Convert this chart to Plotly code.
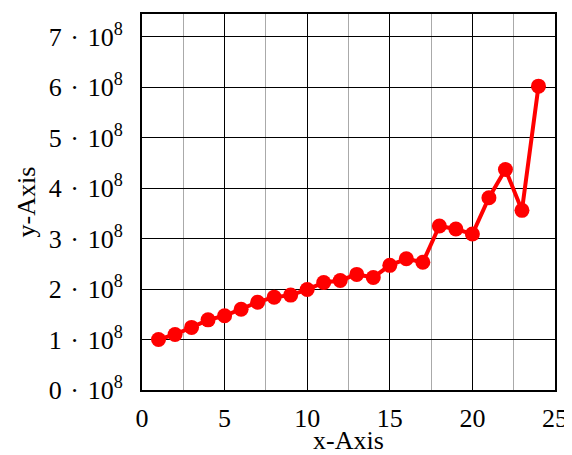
import plotly.graph_objects as go

x_vals = list(range(1, 25))
y_vals = [1.00e8, 1.10e8, 1.24e8, 1.39e8, 1.47e8, 1.60e8, 1.74e8, 1.84e8, 1.88e8, 1.99e8,
          2.13e8, 2.17e8, 2.29e8, 2.23e8, 2.47e8, 2.60e8, 2.53e8, 3.25e8, 3.19e8, 3.09e8,
          3.81e8, 4.37e8, 3.56e8, 6.02e8]
y_tick_vals = [0, 1e8, 2e8, 3e8, 4e8, 5e8, 6e8, 7e8]
y_tick_text = [f"{i}\u2004·\u200410<sup>8</sup>" for i in range(8)]
x_tick_vals = [0, 5, 10, 15, 20, 25]

FONT = "Liberation Serif"

fig = go.Figure()
fig.add_trace(go.Scatter(
    x=x_vals, y=y_vals, mode="lines+markers",
    line=dict(color="#ff0000", width=4),
    marker=dict(color="#ff0000", size=15),
    showlegend=False,
))

fig.update_layout(
    width=564, height=447,
    margin=dict(l=134, r=15, t=4, b=65),
    paper_bgcolor="white", plot_bgcolor="white",
    font=dict(family=FONT, size=26, color="black"),
    xaxis=dict(
        range=[0, 25], tickvals=x_tick_vals,
        showgrid=True, gridcolor="black", gridwidth=1,
        minor=dict(dtick=2.5, tick0=0, showgrid=True, gridcolor="#aaaaaa", gridwidth=1),
        showline=True, linecolor="black", linewidth=2, mirror=True,
        ticks="", zeroline=False,
        title=dict(text="x-Axis", standoff=0, font=dict(size=26)),
        ticklabelstandoff=4,
        tickfont=dict(size=26),
    ),
    yaxis=dict(
        range=[0, 7.45e8], tickvals=y_tick_vals, ticktext=y_tick_text,
        showgrid=True, gridcolor="black", gridwidth=1,
        showline=True, linecolor="black", linewidth=2, mirror=True,
        ticks="", zeroline=False,
        title=dict(text="y-Axis", standoff=6, font=dict(size=26)),
        ticklabelstandoff=12,
        tickfont=dict(size=26),
    ),
)

fig.write_html("out.html")
